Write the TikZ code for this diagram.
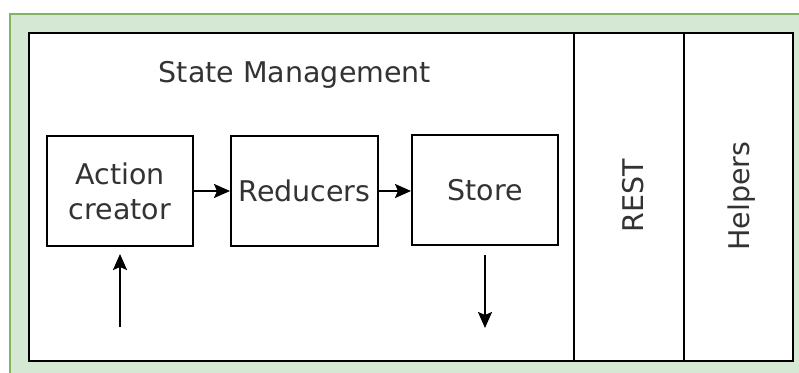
\documentclass[tikz,border=0pt]{standalone}
\usepackage{fontspec}
\setmainfont{DejaVu Sans}
\usetikzlibrary{arrows.meta}
\definecolor{bgfill}{HTML}{D5E8D4}
\definecolor{bgline}{HTML}{82B366}
\definecolor{txt}{HTML}{333333}
\tikzset{
  box/.style={draw=black, line width=2pt, fill=white, minimum height=110pt, inner sep=0pt, align=center, text=txt, font=\fontsize{28.5}{35}\selectfont},
  lbl/.style={text=txt, font=\fontsize{28.5}{35}\selectfont, inner sep=0pt},
  arr/.style={line width=2pt, -{Stealth[length=16pt, width=14pt, inset=3pt]}},
  frame/.style={draw=black, line width=2pt, fill=white}
}
\begin{document}
\begin{tikzpicture}[x=1pt,y=-1pt]
\useasboundingbox (0,0) rectangle (799,372);
\fill[bgfill] (10,14) rectangle (806,380);
\draw[bgline, line width=2pt] (10,380) -- (10,14) -- (806,14);
\draw[frame] (29,33) rectangle (793,361);
\coordinate (l1t) at (574,33); \coordinate (l1b) at (574,361);
\coordinate (l2t) at (684,33); \coordinate (l2b) at (684,361);
\draw[line width=2pt] (l1t) -- (l1b);
\draw[line width=2pt] (l2t) -- (l2b);
\node[lbl] (title) at (295,75) {State Management};
\node[box, minimum width=146pt] (ac) at (120,191) {Action\\creator};
\node[box, minimum width=147pt] (red) at (304.5,191) {Reducers};
\node[box, minimum width=146pt] (st) at (485,190) {Store};
\node[lbl, rotate=90] (rest) at (633,196) {REST};
\node[lbl, rotate=90] (help) at (742,196) {Helpers};
\draw[arr] (ac.east) -- (red.west);
\draw[arr] (red.east) -- (st.west |- red.east);
\coordinate (upfrom) at (120,327);
\coordinate (upto) at (120,254);
\coordinate (dnfrom) at (485,255);
\coordinate (dnto) at (485,328);
\draw[arr] (upfrom) -- (upto);
\draw[arr] (dnfrom) -- (dnto);
\end{tikzpicture}
\end{document}
